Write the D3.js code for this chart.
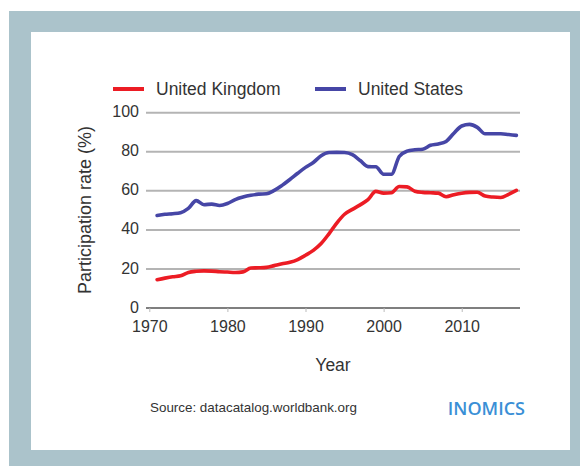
<!DOCTYPE html>
<html>
<head>
<meta charset="utf-8">
<script src="https://cdn.jsdelivr.net/npm/d3@7"></script>
<style>
  body { margin: 0; background: #ffffff; }
  svg { display: block; }
  text { font-family: "Liberation Sans", Arial, sans-serif; fill: #333333; }
</style>
</head>
<body>
<svg></svg>
<script>
// data
let years = d3.range(1971, 2018);
let ukValues = [14.5, 15.3, 16, 16.5, 18.2, 18.8, 19, 18.9, 18.6, 18.4,
    18.2, 18.5, 20.5, 20.6, 20.8, 21.7, 22.6, 23.4, 24.8, 27,
    29.5, 33, 38, 43.5, 48, 50.5, 52.8, 55.5, 59.7, 58.8,
    59, 62.2, 62, 59.8, 59.2, 59, 58.8, 57, 58, 58.8,
    59.2, 59.3, 57.3, 56.8, 56.6, 58.2, 60.2];
let usValues = [47.4, 48, 48.3, 48.8, 51, 55, 52.9, 53.2, 52.5, 53.5,
    55.5, 56.8, 57.7, 58.3, 58.5, 60.2, 62.8, 65.8, 69, 72,
    74.5, 78, 79.6, 79.7, 79.6, 78.5, 75.5, 72.4, 72.3, 68.5,
    68.5, 77.6, 80.3, 81, 81.3, 83.3, 84, 85.3, 89.5, 93.2,
    94, 92.5, 89.2, 89.2, 89.2, 88.8, 88.4];
let seriesNames = ["United Kingdom", "United States"];
let seriesColors = ["#ec1c24", "#4646a6"];
let yTicks = [0, 20, 40, 60, 80, 100];
let xTicks = [1970, 1980, 1990, 2000, 2010];

let svg = d3.select("svg").attr("width", 580).attr("height", 466);

// frame
svg.append("rect")
    .attr("x", 9).attr("y", 11)
    .attr("width", 571).attr("height", 455)
    .style("fill", "#abc3cb");
svg.append("rect")
    .attr("x", 31).attr("y", 32)
    .attr("width", 539).attr("height", 418)
    .style("fill", "#ffffff");

let x = d3.scaleLinear().domain([1970, 2017.5]).range([149.3, 520.3]);
let y = d3.scaleLinear().domain([0, 100]).range([308, 112.7]);

// grid
svg.append("g")
    .selectAll("line")
    .data(yTicks.filter(d => d > 0))
    .join("line")
    .attr("x1", 146).attr("x2", 520)
    .attr("y1", d => y(d)).attr("y2", d => y(d))
    .style("stroke", "#b4b4b4")
    .style("stroke-width", 2);

// y labels
svg.append("g")
    .selectAll("text")
    .data(yTicks)
    .join("text")
    .attr("x", 139)
    .attr("y", d => y(d) - 1)
    .attr("dy", "0.35em")
    .attr("text-anchor", "end")
    .style("font-size", "16px")
    .text(d => d);

// x axis
let xAxis = svg.append("g")
    .attr("transform", `translate(0,${y(0)})`)
    .call(d3.axisBottom(x).tickValues(xTicks).tickFormat(d3.format("d")).tickSize(4).tickPadding(9));
xAxis.select(".domain").attr("d", `M146,0H520`).style("stroke", "#555555").style("stroke-width", 1.6);
xAxis.selectAll(".tick line").style("stroke", "#bbbbbb");
xAxis.selectAll(".tick text")
    .style("font-size", "16px")
    .style("font-family", "'Liberation Sans', Arial, sans-serif")
    .style("fill", "#333333");

// lines
let line = d3.line()
    .x((d, i) => x(years[i]))
    .y(d => y(d))
    .curve(d3.curveMonotoneX);

[ukValues, usValues].forEach((vals, k) => {
    svg.append("path")
        .attr("d", line(vals))
        .style("fill", "none")
        .style("stroke", seriesColors[k])
        .style("stroke-width", 3.6)
        .style("stroke-linejoin", "round")
        .style("stroke-linecap", "round");
});

// legend
let legendX = [113, 315];
seriesNames.forEach((name, k) => {
    svg.append("line")
        .attr("x1", legendX[k]).attr("x2", legendX[k] + 31)
        .attr("y1", 89).attr("y2", 89)
        .style("stroke", seriesColors[k])
        .style("stroke-width", 4);
    svg.append("text")
        .attr("x", legendX[k] + 43)
        .attr("y", 95)
        .style("font-size", "17.5px")
        .text(name);
});

// axis titles
svg.append("text")
    .attr("transform", `translate(91,210) rotate(-90)`)
    .attr("text-anchor", "middle")
    .style("font-size", "18px")
    .text("Participation rate (%)");
svg.append("text")
    .attr("x", 333).attr("y", 371)
    .attr("text-anchor", "middle")
    .style("font-size", "17.5px")
    .text("Year");

// footer
svg.append("text")
    .attr("x", 150).attr("y", 412)
    .style("font-size", "13.4px")
    .text("Source: datacatalog.worldbank.org");
svg.append("text")
    .attr("x", 525).attr("y", 415)
    .attr("text-anchor", "end")
    .style("font-family", "'Open Sans', sans-serif")
    .style("font-weight", 600)
    .style("font-size", "18px")
    .style("fill", "#3a8fd6")
    .text("INOMICS");
</script>
</body>
</html>
